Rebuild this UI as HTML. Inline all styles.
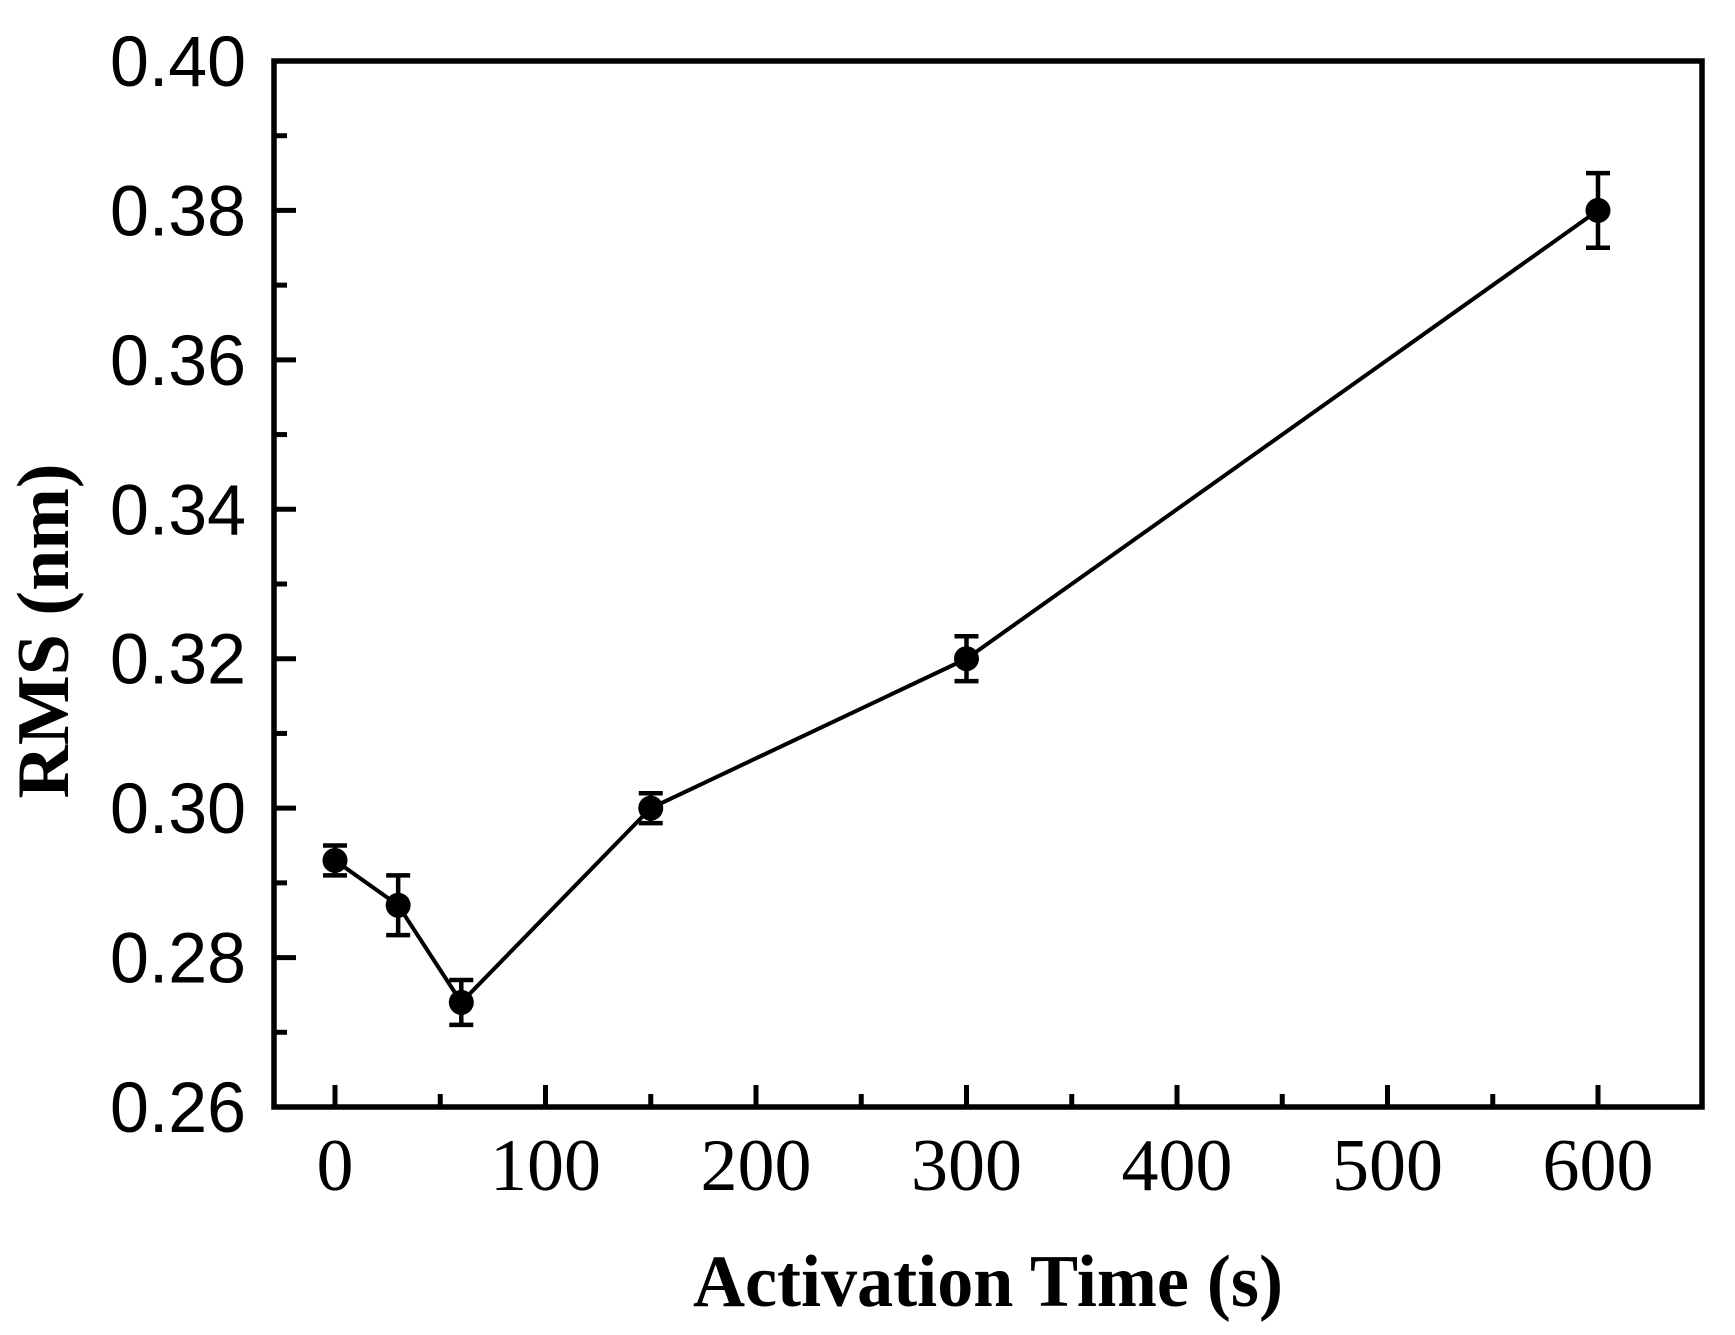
<!DOCTYPE html>
<html><head><meta charset="utf-8"><style>
html,body{margin:0;padding:0;background:#fff;}
svg{display:block;}
</style></head><body>
<svg id="chart" width="1735" height="1335" viewBox="0 0 1735 1335" xmlns="http://www.w3.org/2000/svg">
<g id="ticks"></g>
<g id="series"></g>
<rect x="274" y="61" width="1428" height="1046" fill="none" stroke="#000" stroke-width="5.5"/>
<text x="988" y="1306" text-anchor="middle" font-family="'Liberation Serif',serif" font-weight="bold" font-size="74" textLength="590" lengthAdjust="spacingAndGlyphs">Activation Time (s)</text>
<text transform="translate(68,631) rotate(-90)" text-anchor="middle" font-family="'Liberation Serif',serif" font-weight="bold" font-size="74">RMS (nm)</text>
</svg>
<script>
const xValues=[0,30,60,150,300,600];
const yValues=[0.293,0.287,0.274,0.300,0.320,0.380];
const yErrors=[0.002,0.004,0.003,0.002,0.003,0.005];
const xTicks=[0,100,200,300,400,500,600];
const yTicks=[0.26,0.28,0.30,0.32,0.34,0.36,0.38,0.40];
const NS='http://www.w3.org/2000/svg';
function X(v){return 335+(v-0)/600*(1598-335);}
function Y(v){return 1107-(v-0.26)/0.14*(1107-61);}
function mk(tag,attrs,parent){const e=document.createElementNS(NS,tag);for(const k in attrs)e.setAttribute(k,attrs[k]);parent.appendChild(e);return e;}
const tg=document.getElementById('ticks');
xTicks.forEach((t,i)=>{
  const l=mk('line',{x1:X(t),x2:X(t),y1:1107,y2:1085,stroke:'#000','stroke-width':5},tg);
  
  
  if(i<xTicks.length-1){const m=(t+xTicks[i+1])/2;
    const ml=mk('line',{x1:X(m),x2:X(m),y1:1107,y2:1094,stroke:'#000','stroke-width':5},tg);
    
    }
  const tx=mk('text',{x:X(t),y:1190,'text-anchor':'middle','font-family':"'Liberation Serif',serif",'font-size':74},tg);
  tx.textContent=String(t);
  
  
});
yTicks.forEach((t,i)=>{
  const l=mk('line',{x1:274,x2:296,y1:Y(t),y2:Y(t),stroke:'#000','stroke-width':5},tg);
  
  
  if(i<yTicks.length-1){const m=(t+yTicks[i+1])/2;
    const ml=mk('line',{x1:274,x2:287,y1:Y(m),y2:Y(m),stroke:'#000','stroke-width':5},tg);
    
    }
  const tx=mk('text',{x:246,y:Y(t)+25,'text-anchor':'end','font-family':"'Liberation Sans',sans-serif",'font-size':71,textLength:136,lengthAdjust:'spacingAndGlyphs'},tg);
  tx.textContent=t.toFixed(2);
  
  
});
const sg=document.getElementById('series');
const pl=mk('polyline',{points:xValues.map((x,i)=>X(x)+','+Y(yValues[i])).join(' '),fill:'none',stroke:'#000','stroke-width':4},sg);


xValues.forEach((x,i)=>{
  const cx=X(x),y1=Y(yValues[i]-yErrors[i]),y2=Y(yValues[i]+yErrors[i]);
  const eb=mk('path',{d:`M${cx},${y1}V${y2}M${cx-12},${y1}H${cx+12}M${cx-12},${y2}H${cx+12}`,stroke:'#000','stroke-width':4.5,fill:'none'},sg);
  
  
  const c=mk('circle',{cx:cx,cy:Y(yValues[i]),r:12.5,fill:'#000'},sg);
  
  
});
</script>
</body></html>
